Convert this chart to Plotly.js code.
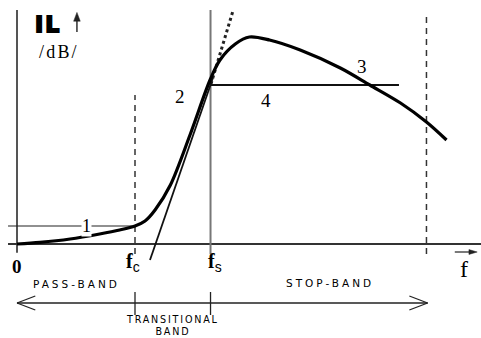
<!DOCTYPE html>
<html>
<head>
<meta charset="utf-8">
<script src="https://cdn.plot.ly/plotly-3.0.1.min.js"></script>
<style>
  html, body { margin: 0; padding: 0; background: #fff; }
  #chart { width: 481px; height: 338px; }
</style>
</head>
<body>
<div id="chart"></div>
<script>
// Insertion loss IL (dB) of a low-pass filter versus frequency f (arbitrary units)
const freq = [0, 1.95, 4.5, 7.0, 8.7, 10.0, 10.85, 11.7, 13.0, 14.66, 16.36, 17.2, 18.5, 19.7, 21.4, 24.0, 27.4, 29.9, 32.5, 34.7, 36.4];
const il   = [0, 0.4, 1.25, 2.5, 3.5, 4.5, 5.75, 8.5, 14.75, 27.25, 41.0, 46.0, 50.0, 51.75, 51.0, 48.5, 44.0, 39.75, 35.25, 30.5, 26.0];

// Characteristic frequencies
const fC = 10.0;     // cut-off frequency
const fS = 16.4;     // start of stop-band
const fEdge = 34.7;  // upper limit of the stop-band

// Levels
const passLevel = 4.5;   // 1: max attenuation in pass-band
const stopLevel = 39.75; // 4: min attenuation in stop-band

// Slope line (2) through the transition: solid part and dotted extension
const slopeX = [11.27, 16.6];
const slopeY = [-4.0, 41.5];
const slopeExtX = [16.44, 18.3];
const slopeExtY = [40.0, 58.25];

const serif = 'Liberation Serif, Times New Roman, serif';
const wide = 'DejaVu Sans, Verdana, sans-serif';

const traces = [
  // dotted extension of slope
  { x: slopeExtX, y: slopeExtY, mode: 'lines', line: { color: '#222', width: 3, dash: 'dot' }, hoverinfo: 'skip' },
  // slope line
  { x: slopeX, y: slopeY, mode: 'lines', line: { color: '#111', width: 1.8 }, hoverinfo: 'skip' },
  // IL curve
  { x: freq, y: il, mode: 'lines', line: { color: '#000', width: 3.2, shape: 'spline', smoothing: 0.9 }, hoverinfo: 'skip' }
];

const L = (x0, y0, x1, y1, color, width, dash) => ({
  type: 'line', xref: 'x', yref: 'y', x0, y0, x1, y1, layer: 'below',
  line: { color, width, dash: dash || 'solid' }
});
const head = path => ({
  type: 'path', xref: 'x', yref: 'y', path, fillcolor: '#222', line: { color: '#222', width: 0.5 }
});

const shapes = [
  // axes
  L(0, -2.2, 0, 58.5, '#555', 2),
  L(-0.76, 0, 39.4, 0, '#333', 2),
  // characteristic frequency markers
  L(fC, -2.5, fC, 37.25, '#333', 1.5, '6px,5px'),
  L(fS, -2.5, fS, 58.5, '#777', 2),
  L(fEdge, -2.5, fEdge, 57.25, '#333', 1.5, '6px,5px'),
  // level lines
  L(-0.76, passLevel, fC, passLevel, '#222', 1.2),
  L(fS, stopLevel, 32.37, stopLevel, '#111', 2),
  // band arrow
  L(0, -14.75, fEdge + 0.1, -14.75, '#222', 1.3),
  L(0, -14.75, 1.55, -13.0, '#222', 1.3),
  L(0, -14.75, 1.55, -16.5, '#222', 1.3),
  L(fEdge + 0.1, -14.75, fEdge - 1.45, -13.0, '#222', 1.3),
  L(fEdge + 0.1, -14.75, fEdge - 1.45, -16.5, '#222', 1.3),
  L(fC, -12.0, fC, -17.75, '#222', 1.3),
  L(fS, -12.0, fS, -17.75, '#222', 1.3),
  // arrow over f
  L(37.1, -2.0, 38.4, -2.0, '#222', 1.2),
  head('M 38.3 -1.4 L 39.0 -2 L 38.3 -2.6 Z'),
  // arrow next to IL
  L(5.08, 53.0, 5.08, 56.0, '#222', 1.4),
  head('M 4.8 55.7 L 5.08 57.9 L 5.36 55.7 Z')
];

const A = (text, x, y, size, family, extra) => Object.assign({
  text, x, y, xref: 'x', yref: 'y', showarrow: false,
  font: { size, family, color: '#000' }, xanchor: 'center', yanchor: 'middle'
}, extra || {});

const spaced = (t, px) => '<span style="letter-spacing:' + px + 'px">' + t + '</span>';
const sub = t => '<sub><span style="font-family:Liberation Sans">' + t + '</span></sub>';

const annotations = [
  A('<b><span style="letter-spacing:2px;stroke:#000;stroke-width:1.8px">IL</span></b>', 2.6, 55.0, 22, wide),
  A(spaced('/dB/', 2.2), 3.55, 47.9, 18, serif),
  A('1', 5.85, passLevel, 18, serif, { bgcolor: '#fff', borderpad: 0 }),
  A('2', 13.8, 37.0, 19, serif),
  A('3', 29.2, 44.3, 19, serif),
  A('4', 21.1, 36.0, 19, serif),
  A('<b>0</b>', 0, -5.6, 19, serif),
  A('<b>f</b>' + sub('c'), fC - 0.2, -4.6, 20, serif),
  A('<b>f</b>' + sub('s'), fS + 0.4, -4.6, 20, serif),
  A('f', 37.9, -6.3, 24, serif),
  A(spaced('PASS-BAND', 3.0), 5.0, -10.0, 10.5, wide),
  A(spaced('STOP-BAND', 3.0), 26.5, -9.8, 10.5, wide),
  A(spaced('TRANSITIONAL', 1.8) + '<br>' + spaced('BAND', 1.8), 13.2, -20.3, 9.6, wide)
];

const layout = {
  width: 481, height: 338,
  margin: { l: 0, r: 0, t: 0, b: 0 },
  paper_bgcolor: '#fff', plot_bgcolor: '#fff',
  showlegend: false,
  xaxis: { range: [-17 / 11.8, 464 / 11.8], visible: false, fixedrange: true },
  yaxis: { range: [-23.5, 61], visible: false, fixedrange: true },
  shapes, annotations
};

Plotly.newPlot('chart', traces, layout, { staticPlot: true, displayModeBar: false });
</script>
</body>
</html>
